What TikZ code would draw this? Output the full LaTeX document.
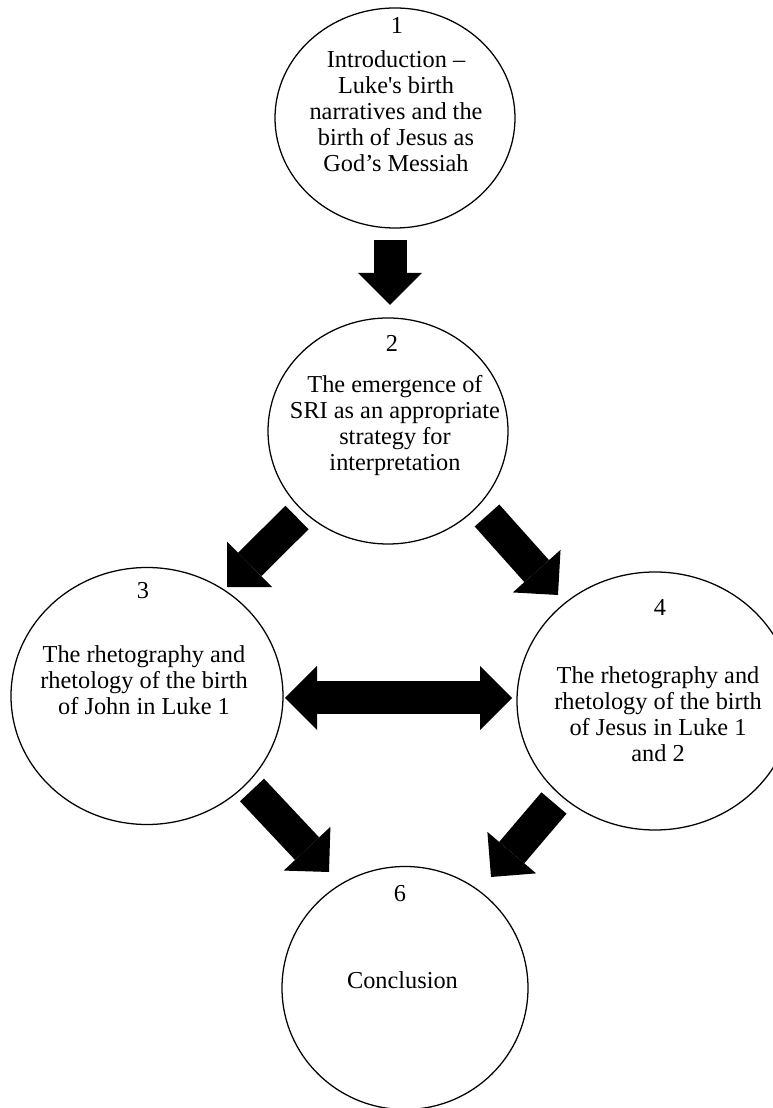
\documentclass[tikz,border=0pt]{standalone}
\usepackage{fontspec}
\setmainfont{Liberation Serif}
\usetikzlibrary{shapes.geometric,arrows.meta}

\begin{document}
\begin{tikzpicture}[
    stage/.style={shape=ellipse,draw,line width=0.9pt,inner sep=0pt},
    stagetext/.style={align=center,inner sep=0pt,font=\fontsize{17.3}{18.5}\selectfont},
    bighead/.tip={Triangle[length=0.8cm,width=1.6cm,line width=0pt]},
    bigarrow/.style={line width=0.825cm,-bighead},
    bigdarrow/.style={line width=0.825cm,bighead-bighead}
  ]
    \useasboundingbox (0,0) rectangle (19.325,27.7);
    % stages
    \node[stage,minimum width=6.0cm,minimum height=5.5cm] (s1) at (9.875,24.75) {};
    \node[stage,minimum width=6.0cm,minimum height=5.65cm] (s2) at (9.7,16.925) {};
    \node[stage,minimum width=6.8cm,minimum height=6.425cm] (s3) at (3.675,10.3) {};
    \node[stage,minimum width=6.9cm,minimum height=6.45cm] (s4) at (16.375,10.175) {};
    \node[stage,minimum width=6.15cm,minimum height=6.075cm] (s6) at (10.125,3.0) {};
    % numbers
    \node[stagetext] (n1) at (9.925,27.06) {1};
    \node[stagetext] (n2) at (9.8,19.125) {2};
    \node[stagetext] (n3) at (3.575,12.925) {3};
    \node[stagetext] (n4) at (16.5,12.5) {4};
    \node[stagetext] (n6) at (10.0,5.35) {6};
    % texts
    \node[stagetext,anchor=north] (t1) at (9.9,26.44) {Introduction –\\Luke\textquotesingle s birth\\narratives and the\\birth of Jesus as\\God’s Messiah};
    \node[stagetext,anchor=north] (t2) at (9.875,18.315) {The emergence of\\SRI as an appropriate\\strategy for\\interpretation};
    \node[stagetext,anchor=north] (t3) at (3.6,11.565) {The rhetography and\\rhetology of the birth\\of John in Luke 1};
    \node[stagetext,anchor=north] (t4) at (16.45,11.04) {The rhetography and\\rhetology of the birth\\of Jesus in Luke 1\\and 2};
    \node[stagetext,anchor=north] (t6) at (10.0625,3.415) {Conclusion};
    % arrow ends
    \coordinate (a12s) at (9.75,21.7);
    \coordinate (a12e) at (9.75,20.075);
    \coordinate (a23s) at (7.425,14.7625);
    \coordinate (a23e) at (5.675,13.025);
    \coordinate (a24s) at (12.175,14.8125);
    \coordinate (a24e) at (13.95,12.825);
    \coordinate (a34s) at (7.125,10.25);
    \coordinate (a34e) at (12.8,10.25);
    \coordinate (a36s) at (6.3,7.95);
    \coordinate (a36e) at (8.225,5.9);
    \coordinate (a46s) at (13.85,7.625);
    \coordinate (a46e) at (12.275,5.775);
    \draw[bigarrow] (a12s) -- (a12e);
    \draw[bigarrow] (a23s) -- (a23e);
    \draw[bigarrow] (a24s) -- (a24e);
    \draw[bigdarrow] (a34s) -- (a34e);
    \draw[bigarrow] (a36s) -- (a36e);
    \draw[bigarrow] (a46s) -- (a46e);
\end{tikzpicture}
\end{document}
